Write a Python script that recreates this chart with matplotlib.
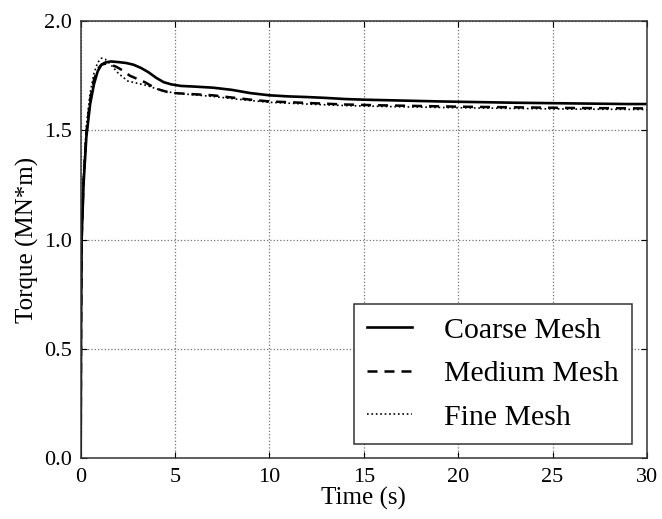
import matplotlib
matplotlib.use("Agg")
import matplotlib.pyplot as plt

plt.rcParams['font.family'] = ['Liberation Serif', 'DejaVu Serif']

# Torque history for the three mesh resolutions
t_coarse = [0.0, 0.02, 0.05, 0.15, 0.3, 0.5, 0.7, 0.9, 1.1, 1.3, 1.6, 2.0, 2.4,
            2.8, 3.2, 3.6, 4.0, 4.4, 4.8, 5.3, 6.0, 7.0, 8.0, 9.0, 10.0, 11.0,
            12.0, 13.0, 14.0, 15.0, 17.0, 19.0, 21.0, 23.0, 25.0, 27.0, 29.0, 30.0]
torque_coarse = [0.0, 0.6, 1.0, 1.25, 1.47, 1.62, 1.71, 1.77, 1.80, 1.81, 1.815,
                 1.812, 1.808, 1.80, 1.785, 1.765, 1.74, 1.72, 1.71, 1.703, 1.70,
                 1.695, 1.685, 1.67, 1.66, 1.655, 1.652, 1.648, 1.643, 1.64, 1.636,
                 1.632, 1.629, 1.626, 1.624, 1.622, 1.62, 1.62]

t_medium = [0.0, 0.02, 0.05, 0.15, 0.3, 0.5, 0.7, 0.9, 1.1, 1.3, 1.6, 1.9, 2.2,
            2.6, 3.0, 3.4, 3.8, 4.2, 4.6, 5.0, 6.0, 7.0, 8.0, 9.0, 10.0, 12.0,
            14.0, 16.0, 18.0, 20.0, 22.0, 24.0, 26.0, 28.0, 30.0]
torque_medium = [0.0, 0.6, 1.0, 1.27, 1.49, 1.64, 1.73, 1.78, 1.80, 1.805, 1.80,
                 1.79, 1.775, 1.75, 1.735, 1.72, 1.70, 1.685, 1.675, 1.67, 1.665,
                 1.66, 1.65, 1.64, 1.632, 1.625, 1.618, 1.614, 1.611, 1.608,
                 1.606, 1.604, 1.602, 1.601, 1.60]

t_fine = [0.0, 0.02, 0.05, 0.15, 0.3, 0.5, 0.7, 0.9, 1.1, 1.3, 1.6, 2.0, 2.5,
          3.0, 3.5, 4.0, 4.5, 5.0, 6.0, 7.0, 8.0, 9.0, 10.0, 12.0, 14.0, 16.0,
          18.0, 20.0, 22.0, 24.0, 26.0, 28.0, 30.0]
torque_fine = [0.0, 0.65, 1.05, 1.3, 1.52, 1.67, 1.76, 1.81, 1.83, 1.825, 1.80,
               1.76, 1.725, 1.715, 1.705, 1.69, 1.678, 1.67, 1.662, 1.655, 1.645,
               1.636, 1.628, 1.62, 1.613, 1.609, 1.606, 1.603, 1.601, 1.599,
               1.597, 1.596, 1.595]

x_ticks = [0, 5, 10, 15, 20, 25, 30]
y_ticks = [0.0, 0.5, 1.0, 1.5, 2.0]

fig = plt.figure(figsize=(6.62, 5.19), dpi=100)
ax = fig.add_axes([0.1219, 0.1175, 0.8554, 0.842])

ax.plot(t_coarse, torque_coarse, color='black', lw=1.9, label='Coarse Mesh')
ax.plot(t_medium, torque_medium, color='black', lw=1.8,
        linestyle=(0, (4, 2.8)), label='Medium Mesh')
ax.plot(t_fine, torque_fine, color='black', lw=1.2, linestyle=':',
        label='Fine Mesh')

ax.set_xlim(0, 30)
ax.set_ylim(0, 2.0)
ax.set_xticks(x_ticks)
ax.set_yticks(y_ticks)
ax.set_yticklabels([f"{v:.1f}" for v in y_ticks])
ax.tick_params(direction='in', length=4, top=True, right=True, labelsize=16)
ax.tick_params(axis='x', pad=7)
ax.tick_params(axis='y', pad=6)
ax.grid(True, color='0.45', linestyle=':', linewidth=0.9)
for s in ax.spines.values():
    s.set_linewidth(1.1)
    s.set_color('0.2')

ax.set_xlabel('Time (s)', fontsize=18, labelpad=0)
ax.set_ylabel('Torque (MN*m)', fontsize=18, labelpad=4)

leg = ax.legend(loc='lower right', bbox_to_anchor=(0.973, 0.032),
                borderaxespad=0, fontsize=21.5, handlelength=1.5,
                handletextpad=1.05, labelspacing=0.55, borderpad=0.45,
                fancybox=False, framealpha=1)
leg.get_frame().set_edgecolor('0.2')
leg.get_frame().set_linewidth(1.1)

fig.savefig('out.png', dpi=100, facecolor='white')
